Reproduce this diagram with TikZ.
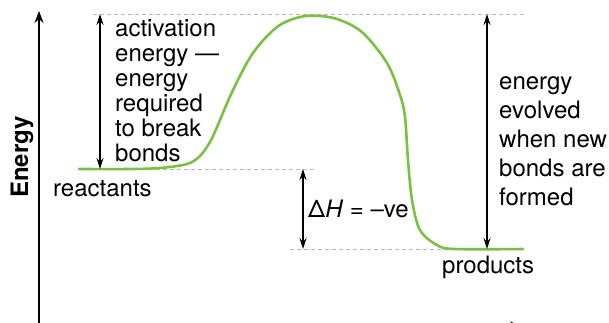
\documentclass[tikz,border=0pt]{standalone}
\usepackage{fontspec}
\setmainfont{TeX Gyre Heros}
\usetikzlibrary{arrows.meta}
\definecolor{curvegreen}{RGB}{122,193,67}

\begin{document}
\begin{tikzpicture}[
    x=1pt, y=-1pt,
    lbl/.style={font=\fontsize{24}{25}\selectfont, inner sep=0pt, align=left, anchor=base west},
    level/.style={draw=gray!55, line width=0.8pt, dash pattern=on 4pt off 3pt},
    span/.style={{Stealth[length=11pt,width=7pt]}-{Stealth[length=11pt,width=7pt]}, line width=1.1pt},
    axis/.style={-{Stealth[length=12pt,width=9pt]}, line width=1.1pt},
    curve/.style={draw=curvegreen, line width=2.6pt, line cap=round}
  ]
  \useasboundingbox (0,0) rectangle (609,322);

  % axes
  \coordinate (origin) at (39,326);
  \coordinate (ytip)   at (39,11);
  \coordinate (xtip)   at (522,326);
  \draw[axis] (origin) -- (ytip);
  \draw[axis] (origin) -- (xtip);
  \node[font=\fontsize{24}{25}\selectfont\bfseries, rotate=90] (energy) at (22,157) {Energy};

  % energy levels
  \coordinate (topL)  at (93,14);
  \coordinate (topR)  at (525,14);
  \coordinate (reacL) at (79,169);
  \coordinate (reacR) at (315,169);
  \coordinate (prodL) at (290,249);
  \coordinate (prodR) at (523,249);
  \draw[level] (topL)  -- (topR);
  \draw[level] (reacL) -- (reacR);
  \draw[level] (prodL) -- (prodR);

  \draw[curve] plot[smooth, tension=0.55] coordinates {
    (79,169) (130,169) (160,168) (187,164) (200,156) (210,142) (217,127)
    (233,90) (253,53) (277,27) (300,17) (320,16) (340,20) (363,33)
    (387,63) (400,95) (405,117) (408,160) (412,200) (420,230) (437,245)
    (455,249) (523,249)};

  % spans
  \coordinate (eaT) at (100,14);
  \coordinate (eaB) at (100,169);
  \coordinate (dhT) at (303,169);
  \coordinate (dhB) at (303,249);
  \coordinate (evT) at (487,14);
  \coordinate (evB) at (487,249);
  \draw[span] (eaT) -- (eaB);
  \draw[span] (dhT) -- (dhB);
  \draw[span] (evT) -- (evB);

  % labels (base = last line)
  \node[lbl] (activation) at (115,161)
    {activation\\energy —\\energy\\required\\to break\\bonds};
  \node[lbl, font=\fontsize{24}{29}\selectfont] (evolved) at (499,205)
    {energy\\evolved\\when new\\bonds are\\formed};
  \node[lbl] (reactants) at (53,196) {reactants};
  \node[lbl] (products)  at (442,273) {products};
  \node[lbl] (deltaH)    at (308,217) {Δ\textit{H} = –ve};
\end{tikzpicture}
\end{document}
